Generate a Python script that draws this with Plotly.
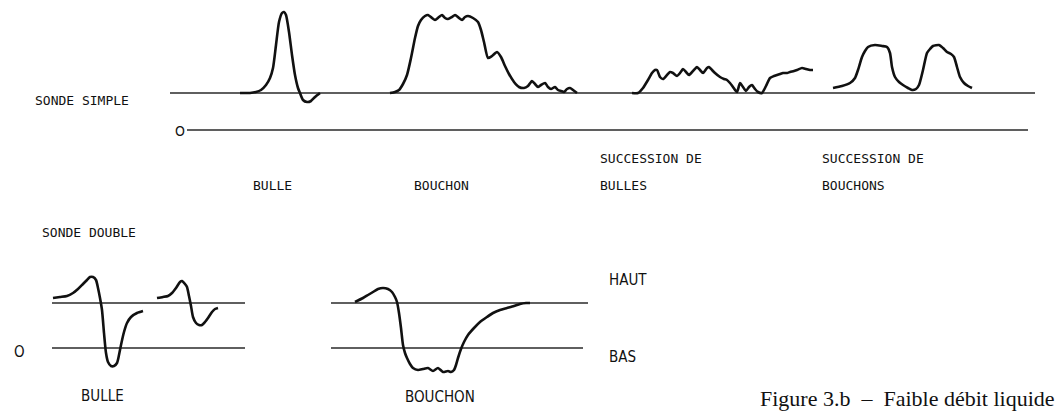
import plotly.graph_objects as go

W, H = 1063, 411

# ---- single probe (SONDE SIMPLE): time axis and signal level (0 = "O" line) ----
SIMPLE_BASE = 37          # liquid level of the single-probe trace
SIMPLE_BASE_T = [170, 1035]
SIMPLE_ZERO_T = [187, 1028]

bulle_t = [240, 250, 256, 261, 266, 270, 273, 276, 279, 282, 284, 286, 289, 292, 295, 298,
           300, 303, 307, 311, 315, 320]
bulle_v = [37, 37, 38, 40, 45, 52, 62, 85, 108, 117, 118, 115, 98, 75, 55, 42,
           37, 30, 28, 29, 33, 37]

bouchon_t = [390, 395, 399, 403, 407, 411, 415, 418, 421, 425, 428, 432, 435, 439, 442, 445,
             448, 452, 455, 459, 462, 465, 468, 473, 478, 481, 484, 488, 492, 497, 501, 505,
             509, 514, 519, 524, 528, 532, 535, 538, 541, 545, 548, 551, 555, 558, 561, 564,
             567, 570, 573, 577]
bouchon_v = [37, 38, 40, 46, 55, 72, 92, 104, 110, 114, 115, 112, 110, 113, 115, 112,
             111, 113, 115, 112, 110, 113, 114, 112, 108, 100, 88, 72, 74, 78, 73, 64,
             56, 48, 43, 42, 44, 49, 46, 43, 45, 47, 43, 41, 43, 40, 39, 38,
             41, 42, 40, 37]

succ_bulles_t = [632, 638, 643, 648, 652, 655, 657, 660, 663, 667, 670, 673, 677, 680, 683,
                 686, 689, 693, 697, 700, 703, 707, 709, 712, 715, 720, 724, 727, 730, 733,
                 737, 740, 743, 746, 749, 752, 755, 758, 762, 766, 770, 774, 777, 780, 783,
                 787, 790, 794, 797, 802, 806, 810, 813]
succ_bulles_v = [37, 37, 42, 50, 57, 60, 60, 53, 51, 55, 58, 57, 54, 57, 61,
                 58, 55, 59, 63, 60, 57, 62, 63, 60, 57, 53, 51, 50, 47, 43,
                 38, 47, 43, 39, 43, 45, 41, 38, 37, 44, 52, 54, 55, 56, 57,
                 57, 58, 59, 60, 62, 61, 60, 60]

succ_bouchons_t = [833, 842, 850, 855, 858, 862, 865, 868, 875, 882, 887, 890, 892, 895, 899,
                   903, 908, 912, 916, 919, 923, 927, 930, 933, 939, 943, 947, 951, 954, 957,
                   960, 964, 968, 972]
succ_bouchons_v = [42, 44, 47, 52, 60, 73, 79, 83, 85, 84, 83, 77, 63, 53, 48,
                   45, 42, 40, 41, 45, 60, 77, 81, 84, 85, 82, 78, 76, 73, 63,
                   53, 47, 44, 42]

# ---- double probe (SONDE DOUBLE): 0 = "BAS"/"O" line, HAUT level ----
DOUBLE_HAUT = 45
DOUBLE_LEFT_T = [52, 245]
DOUBLE_RIGHT_T_HAUT = [331, 588]
DOUBLE_RIGHT_T_BAS = [331, 583]

dbulle1_t = [53, 60, 67, 73, 78, 83, 87, 90, 93, 96, 98, 100, 102, 104, 106, 108, 111, 114,
             117, 119, 121, 124, 127, 131, 137, 143]
dbulle1_v = [50, 51, 52, 55, 59, 64, 68, 71, 71, 68, 60, 50, 38, 15, -5, -14, -18, -18,
             -15, -7, 3, 16, 25, 31, 35, 37]

dbulle2_t = [157, 163, 168, 172, 176, 180, 182, 185, 187, 189, 191, 193, 196, 199, 202, 205,
             208, 212, 215, 218]
dbulle2_v = [50, 51, 52, 55, 60, 66, 67, 64, 61, 52, 42, 31, 25, 23, 23, 26,
             30, 36, 39, 40]

dbouchon_t = [355, 363, 368, 373, 378, 383, 388, 392, 395, 397, 399, 401, 403, 405, 407, 410,
              413, 418, 423, 428, 433, 438, 443, 448, 451, 454, 456, 458, 461, 464, 468, 474,
              480, 487, 493, 500, 507, 514, 520, 526, 530]
dbouchon_v = [46, 50, 53, 56, 59, 60, 59, 56, 51, 46, 35, 20, 3, -5, -10, -16,
              -20, -22, -21, -20, -23, -20, -24, -23, -24, -22, -17, -10, -1, 6, 13, 20,
              26, 31, 35, 38, 40, 42, 44, 45, 45]

# pixel rows of the two zero lines
TOP_ZERO_PX = 130
BOT_ZERO_PX = 348

INK = "#111111"
RULE = "#2a2a2a"
TYPE_FONT = "DejaVu Sans Mono"
SANS_FONT = "Liberation Sans Narrow, DejaVu Sans Condensed, sans-serif"
SERIF_FONT = "Liberation Serif, serif"

fig = go.Figure()


def trace(t, v, axis, width, color):
    fig.add_trace(go.Scatter(x=t, y=v, mode="lines", yaxis=axis,
                             line=dict(color=color, width=width, shape="spline", smoothing=0.6),
                             hoverinfo="skip", showlegend=False))


# single probe rules
trace(SIMPLE_BASE_T, [SIMPLE_BASE] * 2, "y", 1.6, RULE)
trace(SIMPLE_ZERO_T, [0, 0], "y", 1.6, RULE)
# single probe signals
trace(bulle_t, bulle_v, "y", 2.6, INK)
trace(bouchon_t, bouchon_v, "y", 2.6, INK)
trace(succ_bulles_t, succ_bulles_v, "y", 2.6, INK)
trace(succ_bouchons_t, succ_bouchons_v, "y", 2.6, INK)

# double probe rules
trace(DOUBLE_LEFT_T, [DOUBLE_HAUT] * 2, "y2", 1.6, RULE)
trace(DOUBLE_LEFT_T, [0, 0], "y2", 1.6, RULE)
trace(DOUBLE_RIGHT_T_HAUT, [DOUBLE_HAUT] * 2, "y2", 1.6, RULE)
trace(DOUBLE_RIGHT_T_BAS, [0, 0], "y2", 1.6, RULE)
# double probe signals
trace(dbulle1_t, dbulle1_v, "y2", 2.6, INK)
trace(dbulle2_t, dbulle2_v, "y2", 2.6, INK)
trace(dbouchon_t, dbouchon_v, "y2", 2.6, INK)


def px(y):
    return 1 - y / H


def label(text, x, y, font, size, anchor="left", color=INK):
    fig.add_annotation(text=text, x=x / W, y=px(y), xref="paper", yref="paper",
                       xanchor=anchor, yanchor="middle", showarrow=False,
                       font=dict(family=font, size=size, color=color))


label("SONDE SIMPLE", 33, 100, TYPE_FONT, 13)
label("O", 180, 131, SANS_FONT, 14, "center")
label("BULLE", 272, 185, TYPE_FONT, 13, "center")
label("BOUCHON", 441, 185, TYPE_FONT, 13, "center")
label("SUCCESSION DE", 598, 158, TYPE_FONT, 13)
label("BULLES", 598, 185, TYPE_FONT, 13)
label("SUCCESSION DE", 820, 158, TYPE_FONT, 13)
label("BOUCHONS", 820, 185, TYPE_FONT, 13)
label("SONDE DOUBLE", 40, 232, TYPE_FONT, 13)
label("HAUT", 607, 280, SANS_FONT, 15)
label("BAS", 607, 357, SANS_FONT, 15)
label("O", 12, 352, SANS_FONT, 15)
label("BULLE", 102, 396, SANS_FONT, 15, "center")
label("BOUCHON", 440, 397, SANS_FONT, 15, "center")
label("Figure 3.b  \u2013  Faible débit liquide", 1057, 398, SERIF_FONT, 22, "right")

# axes: x in time units, y axes placed so that zero lines fall on their rows
fig.update_layout(
    width=W, height=H,
    margin=dict(l=0, r=0, t=0, b=0),
    paper_bgcolor="white", plot_bgcolor="white",
    xaxis=dict(range=[0, W], visible=False, fixedrange=True),
    yaxis=dict(range=[-(H - TOP_ZERO_PX), TOP_ZERO_PX], visible=False, fixedrange=True),
    yaxis2=dict(range=[-(H - BOT_ZERO_PX), BOT_ZERO_PX], visible=False, fixedrange=True,
                overlaying="y"),
)

fig.write_html("out.html")
